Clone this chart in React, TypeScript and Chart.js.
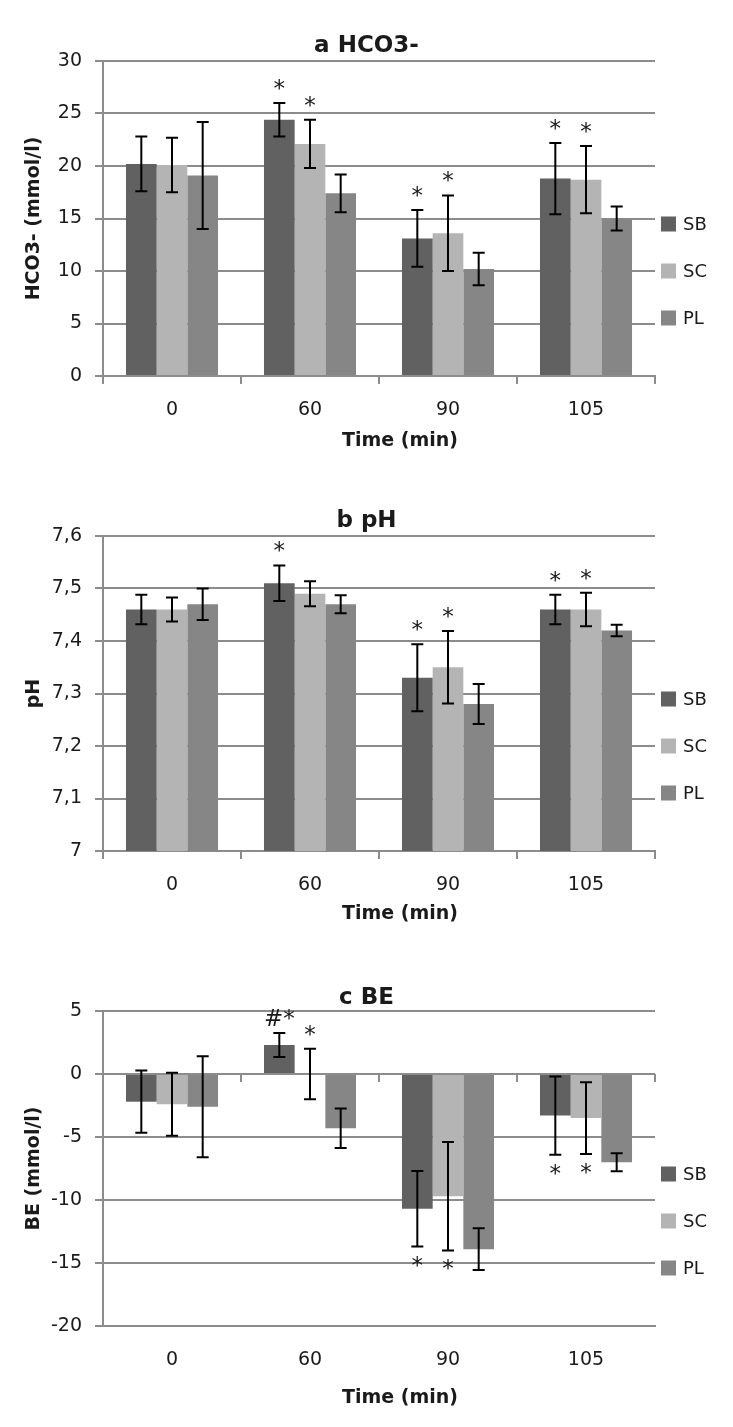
import React, { useEffect, useRef } from 'react';
import { Chart, registerables } from 'chart.js';

Chart.register(...registerables);
Chart.defaults.font.family = "'DejaVu Sans', sans-serif";

// ---------- data ----------
const categories = ['0', '60', '90', '105'];
const seriesNames = ['SB', 'SC', 'PL'];

// a HCO3-
const hco3SB = [20.2, 24.4, 13.1, 18.8];
const hco3SC = [20.1, 22.1, 13.6, 18.7];
const hco3PL = [19.1, 17.4, 10.2, 15.0];
const hco3ErrSB = [2.6, 1.6, 2.7, 3.4];
const hco3ErrSC = [2.6, 2.3, 3.6, 3.2];
const hco3ErrPL = [5.1, 1.8, 1.55, 1.15];
const hco3MarkSB = ['', '*', '*', '*'];
const hco3MarkSC = ['', '*', '*', '*'];
const hco3MarkPL = ['', '', '', ''];
const hco3Ticks = ['0', '5', '10', '15', '20', '25', '30'];

// b pH
const phSB = [7.46, 7.51, 7.33, 7.46];
const phSC = [7.46, 7.49, 7.35, 7.46];
const phPL = [7.47, 7.47, 7.28, 7.42];
const phErrSB = [0.028, 0.034, 0.064, 0.028];
const phErrSC = [0.023, 0.024, 0.069, 0.032];
const phErrPL = [0.03, 0.017, 0.038, 0.011];
const phMarkSB = ['', '*', '*', '*'];
const phMarkSC = ['', '', '*', '*'];
const phMarkPL = ['', '', '', ''];
const phTicks = ['7', '7,1', '7,2', '7,3', '7,4', '7,5', '7,6'];

// c BE
const beSB = [-2.2, 2.3, -10.7, -3.3];
const beSC = [-2.4, 0, -9.7, -3.5];
const bePL = [-2.6, -4.3, -13.9, -7.0];
const beErrSB = [2.47, 0.95, 3.0, 3.1];
const beErrSC = [2.5, 2.0, 4.3, 2.85];
const beErrPL = [4.0, 1.57, 1.65, 0.72];
const beMarkSB = ['', '#*', '*', '*'];
const beMarkSC = ['', '*', '*', '*'];
const beMarkPL = ['', '', '', ''];
const beTicks = ['-20', '-15', '-10', '-5', '0', '5'];

// ---------- styles ----------
const seriesColors = ['#616161', '#b4b4b4', '#868686'];
const GRID = '#8c8c8c';
const TXT = '#1a1a1a';
const W = 733;

type PanelCfg = {
  title: string;
  yTitle: string;
  values: number[][];
  errors: number[][];
  marks: string[][];
  ticks: string[];
  yMin: number;
  yMax: number;
  yStep: number;
  top: number;
  height: number;
  titleY: number;
  xTitleY: number;
  zeroTicks: boolean;
};

const panels: PanelCfg[] = [
  {
    title: 'a HCO3-',
    yTitle: 'HCO3- (mmol/l)',
    values: [hco3SB, hco3SC, hco3PL],
    errors: [hco3ErrSB, hco3ErrSC, hco3ErrPL],
    marks: [hco3MarkSB, hco3MarkSC, hco3MarkPL],
    ticks: hco3Ticks,
    yMin: 0, yMax: 30, yStep: 5,
    top: 0, height: 470, titleY: 45, xTitleY: 440, zeroTicks: false,
  },
  {
    title: 'b pH',
    yTitle: 'pH',
    values: [phSB, phSC, phPL],
    errors: [phErrSB, phErrSC, phErrPL],
    marks: [phMarkSB, phMarkSC, phMarkPL],
    ticks: phTicks,
    yMin: 7, yMax: 7.6, yStep: 0.1,
    top: 475, height: 470, titleY: 45, xTitleY: 438, zeroTicks: false,
  },
  {
    title: 'c BE',
    yTitle: 'BE (mmol/l)',
    values: [beSB, beSC, bePL],
    errors: [beErrSB, beErrSC, beErrPL],
    marks: [beMarkSB, beMarkSC, beMarkPL],
    ticks: beTicks,
    yMin: -20, yMax: 5, yStep: 5,
    top: 950, height: 477, titleY: 47, xTitleY: 447, zeroTicks: true,
  },
];

function makeOverlay(cfg: PanelCfg) {
  return {
    id: 'overlay',
    afterDatasetsDraw(chart: any) {
      const ctx = chart.ctx;
      const ys = chart.scales.y;
      ctx.save();
      chart.data.datasets.forEach((ds: any, di: number) => {
        const meta = chart.getDatasetMeta(di);
        meta.data.forEach((bar: any, j: number) => {
          const v = ds.data[j];
          const e = ds.errors[j];
          const x = bar.x;
          const yt = ys.getPixelForValue(v + e);
          const yb = ys.getPixelForValue(v - e);
          ctx.strokeStyle = '#000';
          ctx.lineWidth = 2;
          ctx.beginPath();
          ctx.moveTo(x, yt);
          ctx.lineTo(x, yb);
          ctx.moveTo(x - 6, yt);
          ctx.lineTo(x + 6, yt);
          ctx.moveTo(x - 6, yb);
          ctx.lineTo(x + 6, yb);
          ctx.stroke();
          const m = ds.marks[j];
          if (m) {
            ctx.fillStyle = TXT;
            ctx.font = "23px 'DejaVu Sans'";
            ctx.textAlign = 'center';
            ctx.textBaseline = 'alphabetic';
            if (v >= 0) ctx.fillText(m, x, yt - 7);
            else ctx.fillText(m, x, yb + 26);
          }
        });
      });
      ctx.restore();
    },
    afterDraw(chart: any) {
      const ctx = chart.ctx;
      const ca = chart.chartArea;
      const xs = chart.scales.x;
      const ys = chart.scales.y;
      ctx.save();
      // zero-line tick marks
      if (cfg.zeroTicks) {
        const y0 = ys.getPixelForValue(0);
        ctx.strokeStyle = GRID;
        ctx.lineWidth = 2;
        ctx.beginPath();
        for (let k = 1; k <= categories.length; k++) {
          const x = Math.round(xs.getPixelForValue(k - 0.5));
          ctx.moveTo(x, y0);
          ctx.lineTo(x, y0 + 8);
        }
        ctx.stroke();
      }
      // chart title
      ctx.fillStyle = TXT;
      ctx.textAlign = 'center';
      ctx.textBaseline = 'middle';
      ctx.font = "bold 23px 'DejaVu Sans'";
      ctx.fillText(cfg.title, W / 2, cfg.titleY + 1.5);
      // x title
      ctx.font = "bold 19px 'DejaVu Sans'";
      ctx.fillText('Time (min)', 400, cfg.xTitleY + 1.3);
      // y title
      ctx.save();
      ctx.translate(34, (ca.top + ca.bottom) / 2);
      ctx.rotate(-Math.PI / 2);
      ctx.fillText(cfg.yTitle, 0, 0);
      ctx.restore();
      // legend
      chart.data.datasets.forEach((ds: any, i: number) => {
        const cy = ca.top + 163 + i * 47;
        ctx.fillStyle = ds.backgroundColor;
        ctx.fillRect(661, cy - 7.5, 15, 15);
        ctx.fillStyle = TXT;
        ctx.textAlign = 'left';
        ctx.textBaseline = 'middle';
        ctx.font = "18px 'DejaVu Sans'";
        ctx.fillText(ds.label, 683, cy + 1.2);
      });
      ctx.restore();
    },
  };
}

function Panel({ cfg }: { cfg: PanelCfg }) {
  const ref = useRef<HTMLCanvasElement>(null);
  useEffect(() => {
    const chart = new Chart(ref.current as HTMLCanvasElement, {
      type: 'bar',
      data: {
        labels: categories,
        datasets: cfg.values.map((vals, i) => ({
          label: seriesNames[i],
          data: vals,
          errors: cfg.errors[i],
          marks: cfg.marks[i],
          backgroundColor: seriesColors[i],
          borderWidth: 0,
          categoryPercentage: 0.667,
          barPercentage: 1,
        })) as any,
      },
      options: {
        responsive: false,
        animation: false,
        devicePixelRatio: 1,
        layout: { padding: { left: 0, right: W - 655, top: 61, bottom: cfg.height - 376 - 90 } },
        plugins: {
          legend: { display: false },
          title: { display: false },
          tooltip: { enabled: false },
        },
        scales: {
          x: {
            grid: {
              display: true,
              drawOnChartArea: false,
              drawTicks: true,
              tickLength: 8,
              color: GRID,
              tickColor: cfg.zeroTicks ? 'rgba(0,0,0,0)' : GRID,
              lineWidth: 2,
              offset: true,
            },
            border: { display: true, color: GRID, width: 2 },
            ticks: { padding: 15, color: TXT, font: { size: 19 } },
            afterFit: (s: any) => { s.height = 90; },
          },
          y: {
            min: cfg.yMin,
            max: cfg.yMax,
            ticks: {
              stepSize: cfg.yStep,
              padding: 13,
              color: TXT,
              font: { size: 19 },
              callback: (_v: any, i: number) => cfg.ticks[i],
            },
            grid: { color: GRID, lineWidth: 2, tickLength: 8, drawTicks: true },
            border: { display: true, color: GRID, width: 2 },
            afterFit: (s: any) => { s.width = 103; },
          },
        },
      } as any,
      plugins: [makeOverlay(cfg)],
    });
    return () => chart.destroy();
  }, []);
  return (
    <canvas
      ref={ref}
      width={W}
      height={cfg.height}
      style={{ position: 'absolute', left: 0, top: cfg.top, display: 'block' }}
    />
  );
}

export default function App() {
  return (
    <div style={{ position: 'absolute', left: 0, top: 0, width: W, height: 1427, background: '#fff' }}>
      {panels.map((p) => (
        <Panel key={p.title} cfg={p} />
      ))}
    </div>
  );
}
